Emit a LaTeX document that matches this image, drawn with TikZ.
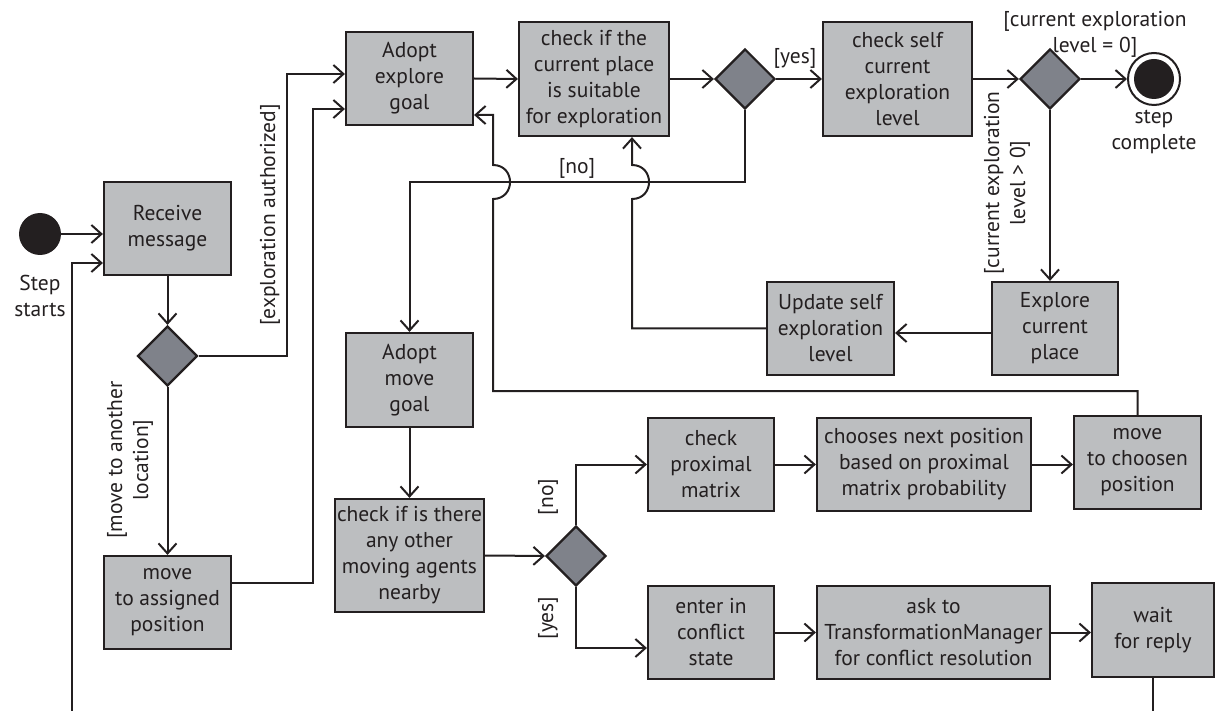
\documentclass[tikz,border=0pt]{standalone}
\usepackage{fontspec}
\setmainfont{PT Sans}
\usetikzlibrary{shapes.geometric,arrows.meta}
\definecolor{ink}{HTML}{231F20}
\definecolor{boxgray}{HTML}{BCBEC0}
\definecolor{diagray}{HTML}{7F828A}

\begin{document}
\begin{tikzpicture}[x=1pt,y=-1pt,
  font=\fontsize{21.5}{26}\selectfont, text=ink,
  act/.style={draw=ink, line width=2.2pt, fill=boxgray, align=center, inner sep=0pt},
  dec/.style={diamond, draw=ink, line width=2.2pt, fill=diagray, minimum width=60pt, minimum height=60pt, inner sep=0pt},
  flow/.style={draw=ink, line width=2pt, -{Straight Barb[length=10pt,width=18pt,line width=2pt]}},
  guard/.style={align=center, inner sep=0pt},
]
\useasboundingbox (0,0) rectangle (1216,711);
\clip (0,0) rectangle (1216,711);

% initial and final states
\node[circle, fill=ink, minimum size=42pt, inner sep=0pt] (start) at (40,234) {};
\node[guard] (startlbl) at (40,296) {Step\\starts};
\node[circle, draw=ink, line width=2pt, fill=white, minimum size=52pt, inner sep=0pt] (final) at (1154,79) {};
\node[circle, fill=ink, minimum size=40pt, inner sep=0pt] (finaldot) at (1154,79) {};
\node[guard] (finallbl) at (1154,132) {step\\complete};

% activities
\node[act, minimum width=127pt, minimum height=93pt] (recv) at (167.5,228.5) {Receive\\message};
\node[act, minimum width=127pt, minimum height=93pt] (goal) at (409.5,78.5) {Adopt\\explore\\goal};
\node[act, minimum width=150pt, minimum height=114pt] (checkif) at (594,79) {check if the\\current place\\is suitable\\for exploration};
\node[act, minimum width=149pt, minimum height=114pt] (chkself) at (897.5,79) {check self\\current\\exploration\\level};
\node[act, minimum width=126pt, minimum height=93pt] (explore) at (1055,328.5) {Explore\\current\\place};
\node[act, minimum width=127pt, minimum height=93pt] (update) at (830.5,328.5) {Update self\\exploration\\level};
\node[act, minimum width=127pt, minimum height=94pt] (movegoal) at (409.5,380) {Adopt\\move\\goal};
\node[act, minimum width=149pt, minimum height=113pt] (checkany) at (409.5,555.5) {check if is there\\any other\\moving agents\\nearby};
\node[act, minimum width=127pt, minimum height=93pt] (assign) at (167.5,602.5) {move\\to assigned\\position};
\node[act, minimum width=126pt, minimum height=93pt] (prox) at (711,464.5) {check\\proximal\\matrix};
\node[act, minimum width=214pt, minimum height=93pt] (choose) at (924,464.5) {chooses next position\\based on proximal\\matrix probability};
\node[act, minimum width=127pt, minimum height=93pt] (movech) at (1137.5,462.5) {move\\to choosen\\position};
\node[act, minimum width=126pt, minimum height=93pt] (conflict) at (711,632.5) {enter in\\conflict\\state};
\node[act, minimum width=233pt, minimum height=93pt] (ask) at (933.5,632.5) {ask to\\TransformationManager\\for conflict resolution};
\node[act, minimum width=122pt, minimum height=94pt] (wait) at (1153,630) {wait\\for reply};

% decisions
\node[dec] (d1) at (167.5,356) {};
\node[dec] (d2) at (745,79) {};
\node[dec] (d3) at (1050,79) {};
\node[dec] (d4) at (576,556) {};

% guards
\node[guard, rotate=90] (gauth) at (270,215) {[exploration authorized]};
\node[guard, rotate=90] (gmove) at (130,460) {[move to another\\location]};
\node[guard] (gyes1) at (795,58) {[yes]};
\node[guard] (gno1) at (577,168) {[no]};
\node[guard] (gzero) at (1095,34) {[current exploration\\level = 0]};
\node[guard, rotate=90] (gpos) at (1007,183) {[current exploration\\level > 0]};
\node[guard, rotate=90] (gno2) at (548,497) {[no]};
\node[guard, rotate=90] (gyes2) at (548,618) {[yes]};

% bend points
\coordinate (a1) at (287,74);
\coordinate (a2) at (313,583);
\coordinate (a3) at (313,109);
\coordinate (e1) at (1000,333);
\coordinate (n1) at (409.5,182);
\coordinate (c1) at (600,648);
\coordinate (g1) at (493,115);
\coordinate (m1) at (493,391);
\coordinate (w1) at (1153,760);
\coordinate (w2) at (72,760);
\coordinate (r1) at (72,263);

% connectors
\draw[flow] (start.east) -- (start.east -| recv.west);
\draw[flow] (recv.south) -- (d1.north);
\draw[flow] (d1.east) -| (a1) -- (a1 -| goal.west);
\draw[flow] (d1.south) -- (assign.north);
\draw[flow] (a2 -| assign.east) -- (a2) -- (a3) -- (a3 -| goal.west);
\draw[flow] (goal.east) -- (checkif.west);
\draw[flow] (checkif.east) -- (d2.west);
\draw[flow] (d2.east) -- (chkself.west);
\draw[flow] (chkself.east) -- (d3.west);
\draw[flow] (d3.east) -- (final.west);
\draw[flow] (d3.south) -- (d3.south |- explore.north);
\draw[flow] (e1 -| explore.west) -- (e1 -| update.east);
\draw[flow] (update.west) -| (632,199) .. controls (654.7,199) and (654.7,165) .. (632,165) -- (632,165 |- checkif.south);
\draw[flow] (d2.south) |- (n1) -- (movegoal.north);
\draw[flow] (movegoal.south) -- (checkany.north);
\draw[flow] (checkany.east) -- (d4.west);
\draw[flow] (d4.north) |- (prox.west);
\draw[flow] (d4.south) |- (c1 -| conflict.west);
\draw[flow] (prox.east) -- (choose.west);
\draw[flow] (choose.east) -- (choose.east -| movech.west);
\draw[flow] (movech.north) |- (m1) -- (493,199) .. controls (515.7,199) and (515.7,165) .. (493,165) -- (g1) -- (g1 -| goal.east);
\draw[flow] (conflict.east) -- (ask.west);
\draw[flow] (ask.east) -- (ask.east -| wait.west);
\draw[flow] (wait.south) -- (w1) -- (w2) -- (r1) -- (r1 -| recv.west);
\end{tikzpicture}
\end{document}
